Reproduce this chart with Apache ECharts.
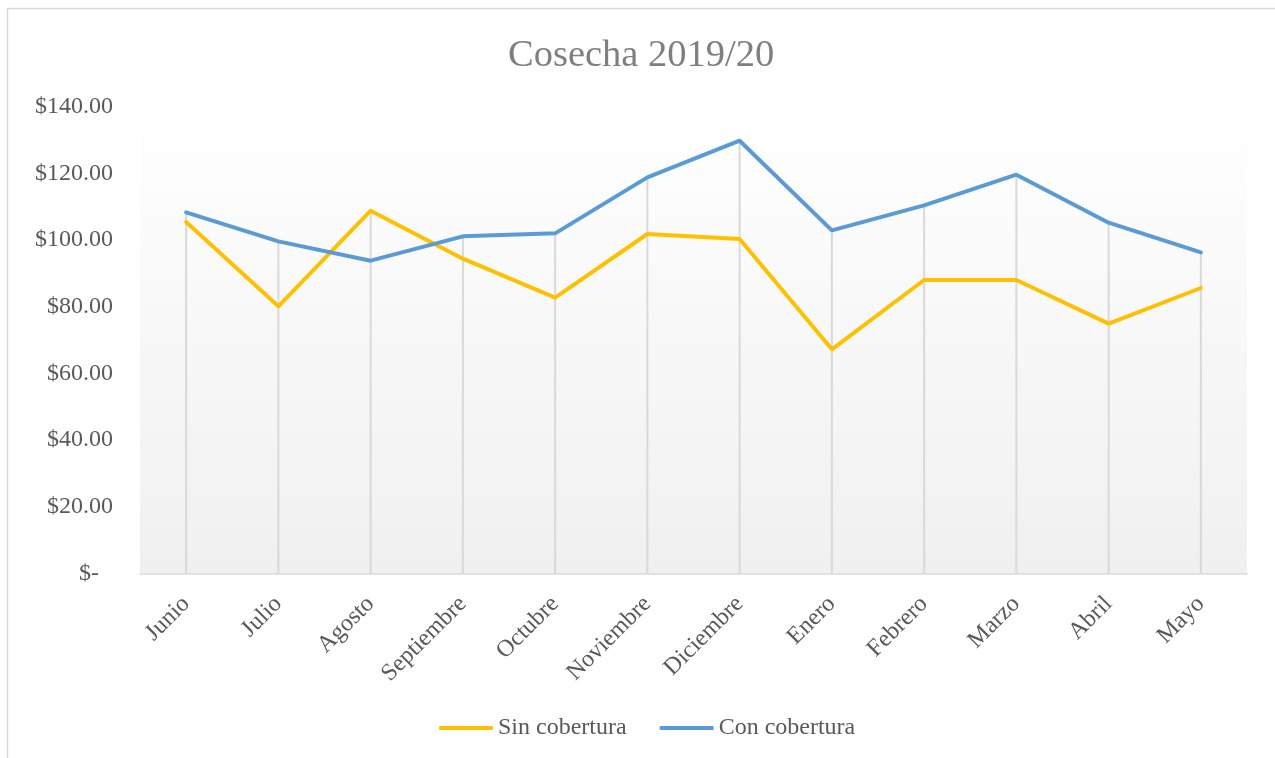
<!DOCTYPE html>
<html>
<head>
<meta charset="utf-8">
<script src="https://cdn.jsdelivr.net/npm/echarts@6/dist/echarts.min.js"></script>
<style>
  html, body { margin: 0; padding: 0; background: #ffffff; }
  #chart { width: 1275px; height: 758px; }
</style>
</head>
<body>
<div id="chart"></div>
<script>
// Monthly prices for the 2019/20 harvest
const months = ['Junio', 'Julio', 'Agosto', 'Septiembre', 'Octubre', 'Noviembre',
                'Diciembre', 'Enero', 'Febrero', 'Marzo', 'Abril', 'Mayo'];
const sinCobertura = [105.4, 80.1, 108.8, 94.4, 82.7, 101.8, 100.3, 67.2, 88.0, 88.0, 74.9, 85.6];
const conCobertura = [108.3, 99.6, 93.8, 101.1, 102.0, 118.8, 129.8, 102.9, 110.4, 119.6, 105.2, 96.3];
const yTicks = [0, 20, 40, 60, 80, 100, 120, 140];

// Drop lines run from the axis up to the higher of the two series
const dropTops = months.map((_, i) => Math.max(sinCobertura[i], conCobertura[i]));

const serif = '"Liberation Serif", "Times New Roman", serif';
const labelGray = '#595959';

const chart = echarts.init(document.getElementById('chart'), null, { renderer: 'canvas' });

chart.setOption({
  animation: false,
  backgroundColor: '#ffffff',
  title: {
    text: 'Cosecha 2019/20',
    left: 503,
    top: 31,
    textStyle: { fontFamily: serif, fontSize: 38.5, fontWeight: 'normal', color: '#7f7f7f' }
  },
  legend: {
    left: 434,
    top: 711,
    data: ['Sin cobertura', 'Con cobertura'],
    icon: 'roundRect',
    itemWidth: 54,
    itemHeight: 4,
    itemGap: 33,
    textStyle: { fontFamily: serif, fontSize: 24, color: labelGray }
  },
  grid: {
    left: 140,
    right: 28,
    top: 106.7,
    bottom: 184.7,
    show: true,
    borderWidth: 0,
    backgroundColor: new echarts.graphic.LinearGradient(0, 0, 0, 1, [
      { offset: 0, color: '#ffffff' },
      { offset: 1, color: '#f0f0f0' }
    ])
  },
  xAxis: {
    type: 'category',
    data: months,
    boundaryGap: true,
    axisTick: { show: false },
    axisLine: { lineStyle: { color: '#d9d9d9', width: 1.5 } },
    splitLine: { show: false },
    axisLabel: {
      rotate: 45,
      margin: 27,
      interval: 0,
      fontFamily: serif,
      fontSize: 24,
      color: labelGray
    }
  },
  yAxis: {
    type: 'value',
    min: yTicks[0],
    max: yTicks[yTicks.length - 1],
    interval: yTicks[1] - yTicks[0],
    axisLine: { show: false },
    axisTick: { show: false },
    splitLine: { show: false },
    axisLabel: {
      margin: 27,
      fontFamily: serif,
      fontSize: 24,
      color: labelGray,
      formatter: function (v) {
        return v === 0 ? '{z|$-}' : '$' + v.toFixed(2);
      },
      rich: {
        z: { fontFamily: serif, fontSize: 24, color: labelGray, padding: [0, 14, 0, 0] }
      }
    }
  },
  graphic: [{
    type: 'rect',
    silent: true,
    shape: { x: 7.5, y: 8.5, width: 1400, height: 1000 },
    style: { fill: 'none', stroke: '#d9d9d9', lineWidth: 1.5 }
  }],
  series: [
    {
      name: 'Drop',
      type: 'bar',
      data: dropTops,
      barWidth: 2,
      silent: true,
      z: 1,
      itemStyle: { color: '#d9d9d9' }
    },
    {
      name: 'Sin cobertura',
      type: 'line',
      data: sinCobertura,
      showSymbol: false,
      symbol: 'none',
      z: 3,
      lineStyle: { color: '#ffc000', width: 4, cap: 'round', join: 'round' },
      itemStyle: { color: '#ffc000' }
    },
    {
      name: 'Con cobertura',
      type: 'line',
      data: conCobertura,
      showSymbol: false,
      symbol: 'none',
      z: 3,
      lineStyle: { color: '#5b9bd5', width: 4, cap: 'round', join: 'round' },
      itemStyle: { color: '#5b9bd5' }
    }
  ]
});
</script>
</body>
</html>
